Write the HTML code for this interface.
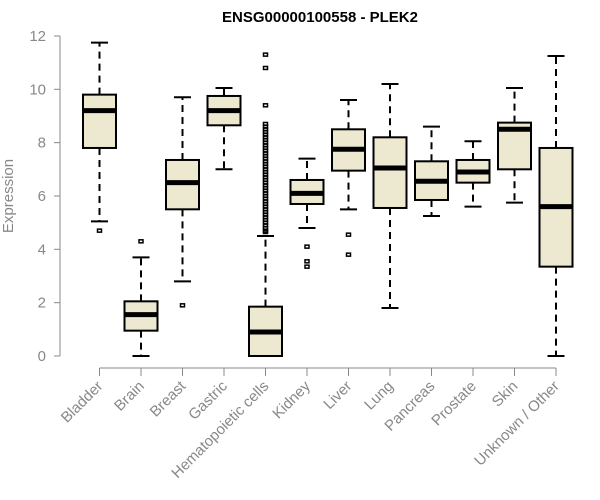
<!DOCTYPE html>
<html><head><meta charset="utf-8"><style>
body{margin:0;background:#fff;}
svg{display:block;font-family:"Liberation Sans",Arial,sans-serif;}
</style></head><body>
<svg id="c" width="600" height="500"></svg>
<script>
const categories=["Bladder","Brain","Breast","Gastric","Hematopoietic cells","Kidney","Liver","Lung","Pancreas","Prostate","Skin","Unknown / Other"];
const whiskerLow=[5.05,0,2.8,7.0,0,4.8,5.5,1.8,5.25,5.6,5.75,0];
const q1=[7.8,0.95,5.5,8.65,0,5.7,6.95,5.55,5.85,6.5,7.0,3.35];
const medians=[9.2,1.55,6.5,9.2,0.9,6.1,7.75,7.05,6.55,6.9,8.5,5.6];
const q3=[9.8,2.05,7.35,9.75,1.85,6.6,8.5,8.2,7.3,7.35,8.75,7.8];
const whiskerHigh=[11.75,3.7,9.7,10.05,4.5,7.4,9.6,10.2,8.6,8.05,10.05,11.25];
const outliers=[[4.7],[4.3],[1.9],[],
[11.3,10.8,9.4,8.7,8.6,8.5,8.4,8.3,8.2,8.1,8.0,7.9,7.8,7.7,7.6,7.5,7.4,7.3,7.2,7.1,7.0,6.9,6.8,6.7,6.6,6.5,6.4,6.3,6.2,6.1,6.0,5.9,5.8,5.7,5.6,5.5,5.4,5.3,5.2,5.1,5.0,4.9,4.8,4.7,4.65],
[4.1,3.55,3.35],[4.55,3.8],[],[],[],[],[]];
const yTicks=[0,2,4,6,8,10,12];
const NS="http://www.w3.org/2000/svg";
const svg=document.getElementById('c');
const y=v=>356-v*26.67;
const x=i=>99.5+i*41.5;
function mk(t,a){const e=document.createElementNS(NS,t);for(const k in a)e.setAttribute(k,a[k]);svg.appendChild(e);return e;}
let t=mk('text',{x:320,y:22,'text-anchor':'middle','font-size':15,'font-weight':'bold',fill:'#000'});t.textContent="ENSG00000100558 - PLEK2";


let ax=mk('line',{x1:60,y1:y(0),x2:60,y2:y(12),stroke:'#888'});


yTicks.forEach(v=>{
 const l=mk('line',{x1:54,x2:60,y1:y(v),y2:y(v),stroke:'#888'});
 
 
 const tx=mk('text',{x:46,y:y(v)+5,'text-anchor':'end','font-size':15,fill:'#888'});tx.textContent=v;
 
 
});
let yt=mk('text',{transform:'translate(13,196) rotate(-90)','text-anchor':'middle','font-size':15,fill:'#888'});yt.textContent="Expression";


let xa=mk('line',{x1:x(0),x2:x(categories.length-1),y1:368,y2:368,stroke:'#888'});


categories.forEach((c,i)=>{
 const cx=x(i),hw=16.5;
 const tk=mk('line',{x1:cx,x2:cx,y1:368,y2:376,stroke:'#888'});
 
 
 const lb=mk('text',{transform:`translate(${cx+4},${387}) rotate(-45)`,'text-anchor':'end','font-size':15,fill:'#888'});lb.textContent=c;
 
 
 const g=document.createElementNS(NS,'g');svg.appendChild(g);
 
 
 const add=(tag,a)=>{const e=document.createElementNS(NS,tag);for(const k in a)e.setAttribute(k,a[k]);g.appendChild(e);return e;};
 add('line',{x1:cx,x2:cx,y1:y(q3[i]),y2:y(whiskerHigh[i]),stroke:'#000','stroke-width':2,'stroke-dasharray':'7,5'});
 add('line',{x1:cx,x2:cx,y1:y(q1[i]),y2:y(whiskerLow[i]),stroke:'#000','stroke-width':2,'stroke-dasharray':'7,5'});
 add('line',{x1:cx-8.5,x2:cx+8.5,y1:y(whiskerHigh[i]),y2:y(whiskerHigh[i]),stroke:'#000','stroke-width':2});
 add('line',{x1:cx-8.5,x2:cx+8.5,y1:y(whiskerLow[i]),y2:y(whiskerLow[i]),stroke:'#000','stroke-width':2});
 add('rect',{x:cx-hw,y:y(q3[i]),width:hw*2,height:y(q1[i])-y(q3[i]),fill:'#ede8d0',stroke:'#000','stroke-width':2});
 add('line',{x1:cx-hw,x2:cx+hw,y1:y(medians[i]),y2:y(medians[i]),stroke:'#000','stroke-width':5});
 outliers[i].forEach(v=>{add('rect',{x:cx-2,y:y(v)-1.5,width:4,height:3,fill:'none',stroke:'#000','stroke-width':1.5});});
});
</script>
</body></html>
